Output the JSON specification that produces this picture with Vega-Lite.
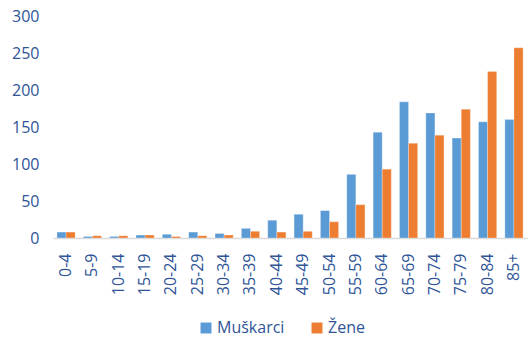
{
  "$schema": "https://vega.github.io/schema/vega-lite/v6.json",
  "width": 474,
  "height": 222,
  "autosize": {"type": "none"},
  "padding": {"left": 53, "top": 16, "right": 4, "bottom": 99},
  "background": "white",
  "config": {
    "view": {"stroke": null},
    "font": "Open Sans"
  },
  "data": {
    "values": [
      {"age": "0-4", "sex": "Muškarci", "value": 8},
      {"age": "0-4", "sex": "Žene", "value": 8},
      {"age": "5-9", "sex": "Muškarci", "value": 2},
      {"age": "5-9", "sex": "Žene", "value": 3},
      {"age": "10-14", "sex": "Muškarci", "value": 2},
      {"age": "10-14", "sex": "Žene", "value": 3},
      {"age": "15-19", "sex": "Muškarci", "value": 4},
      {"age": "15-19", "sex": "Žene", "value": 4},
      {"age": "20-24", "sex": "Muškarci", "value": 5},
      {"age": "20-24", "sex": "Žene", "value": 2},
      {"age": "25-29", "sex": "Muškarci", "value": 8},
      {"age": "25-29", "sex": "Žene", "value": 3},
      {"age": "30-34", "sex": "Muškarci", "value": 6},
      {"age": "30-34", "sex": "Žene", "value": 4},
      {"age": "35-39", "sex": "Muškarci", "value": 13},
      {"age": "35-39", "sex": "Žene", "value": 9},
      {"age": "40-44", "sex": "Muškarci", "value": 24},
      {"age": "40-44", "sex": "Žene", "value": 8},
      {"age": "45-49", "sex": "Muškarci", "value": 32},
      {"age": "45-49", "sex": "Žene", "value": 9},
      {"age": "50-54", "sex": "Muškarci", "value": 37},
      {"age": "50-54", "sex": "Žene", "value": 22},
      {"age": "55-59", "sex": "Muškarci", "value": 86},
      {"age": "55-59", "sex": "Žene", "value": 45},
      {"age": "60-64", "sex": "Muškarci", "value": 143},
      {"age": "60-64", "sex": "Žene", "value": 93},
      {"age": "65-69", "sex": "Muškarci", "value": 184},
      {"age": "65-69", "sex": "Žene", "value": 128},
      {"age": "70-74", "sex": "Muškarci", "value": 169},
      {"age": "70-74", "sex": "Žene", "value": 139},
      {"age": "75-79", "sex": "Muškarci", "value": 135},
      {"age": "75-79", "sex": "Žene", "value": 174},
      {"age": "80-84", "sex": "Muškarci", "value": 157},
      {"age": "80-84", "sex": "Žene", "value": 225},
      {"age": "85+", "sex": "Muškarci", "value": 160},
      {"age": "85+", "sex": "Žene", "value": 257}
    ]
  },
  "mark": {"type": "bar", "stroke": "white", "strokeOpacity": 0.35, "strokeWidth": 0.8},
  "encoding": {
    "x": {
      "field": "age",
      "type": "nominal",
      "sort": null,
      "scale": {"paddingInner": 0.31, "paddingOuter": 0.15},
      "axis": {
        "title": null,
        "labelAngle": -90,
        "labelAlign": "right",
        "labelBaseline": "middle",
        "labelColor": "#2F5597",
        "labelFontSize": 16,
        "labelPadding": 15,
        "ticks": false,
        "domainColor": "#D9D9D9",
        "domainWidth": 1.5,
        "grid": false
      }
    },
    "xOffset": {"field": "sex", "type": "nominal", "scale": {"paddingInner": 0}},
    "y": {
      "field": "value",
      "type": "quantitative",
      "scale": {"domain": [0, 300], "nice": false},
      "axis": {
        "title": null,
        "values": [0, 50, 100, 150, 200, 250, 300],
        "labelColor": "#2F5597",
        "labelFontSize": 16,
        "labelPadding": 14,
        "ticks": false,
        "domain": false,
        "grid": false
      }
    },
    "color": {
      "field": "sex",
      "type": "nominal",
      "scale": {"domain": ["Muškarci", "Žene"], "range": ["#5B9BD5", "#ED7D31"]},
      "legend": {
        "title": null,
        "orient": "none",
        "direction": "horizontal",
        "legendX": 145,
        "legendY": 304,
        "symbolType": "square",
        "symbolSize": 120,
        "symbolStrokeWidth": 0,
        "labelColor": "#2F5597",
        "labelFontSize": 16,
        "columnPadding": 24,
        "labelOffset": 3
      }
    }
  }
}
